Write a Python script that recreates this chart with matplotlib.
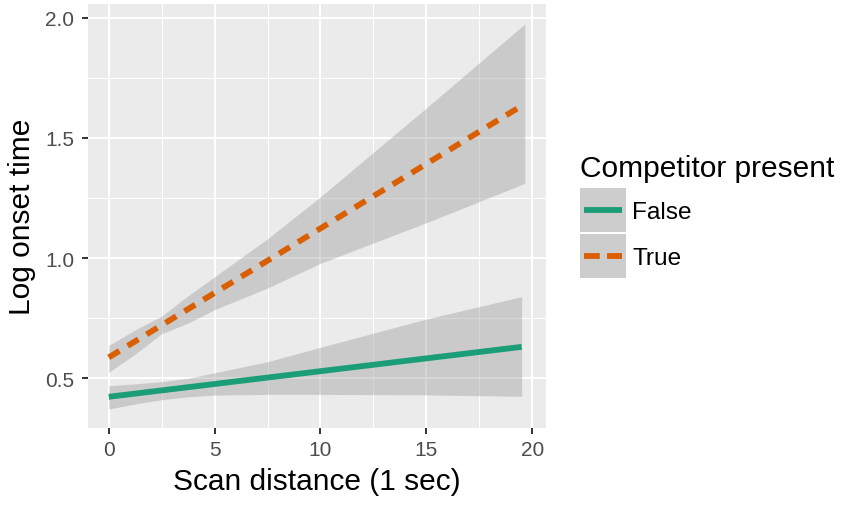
import numpy as np
import matplotlib.pyplot as plt
from matplotlib.patches import Patch
from matplotlib.lines import Line2D
from matplotlib.legend_handler import HandlerLine2D

plt.rcParams['font.family'] = ['Liberation Sans', 'DejaVu Sans']

# fitted lines
x_false = [0, 19.5]
fit_false = [0.422, 0.630]
x_true = [0, 19.65]
fit_true = [0.586, 1.642]

# confidence bands
band_x_false = [0, 1.25, 2.5, 3.75, 5, 7.5, 10, 15, 19.5]
band_lo_false = [0.371, 0.392, 0.410, 0.422, 0.429, 0.432, 0.432, 0.430, 0.424]
band_hi_false = [0.468, 0.476, 0.485, 0.499, 0.522, 0.568, 0.628, 0.746, 0.839]

band_x_true = [0, 1.25, 2.5, 3.75, 5, 7.5, 10, 15, 19.65]
band_lo_true = [0.524, 0.600, 0.685, 0.729, 0.785, 0.875, 0.978, 1.147, 1.311]
band_hi_true = [0.636, 0.701, 0.758, 0.843, 0.922, 1.080, 1.255, 1.625, 1.975]

labels = ["False", "True"]
legend_title = "Competitor present"
green = "#1B9E77"
orange = "#D95F02"
lw = 4.2
dash = (2.15, 1.65)
key_dash = (2.7, 1.25)


class KeyLine(HandlerLine2D):
    # line centred in the key box, with a small inset on both sides
    def create_artists(self, legend, orig_handle, xdescent, ydescent, width, height, fontsize, trans):
        pad = 0.085 * width
        y = -ydescent + height / 2
        line = Line2D([-xdescent + pad, -xdescent + width - pad], [y, y])
        self.update_prop(line, orig_handle, legend)
        line.set_transform(trans)
        return [line]


fig = plt.figure(figsize=(8.41, 5.06), dpi=100)
ax = fig.add_axes([88 / 841, 1 - 429 / 506, (546 - 88) / 841, (429 - 4.5) / 506])
ax.set_facecolor("#EBEBEB")
for s in ax.spines.values():
    s.set_visible(False)

ax.fill_between(band_x_false, band_lo_false, band_hi_false, color="#999999", alpha=0.4, lw=0, zorder=2)
ax.fill_between(band_x_true, band_lo_true, band_hi_true, color="#999999", alpha=0.4, lw=0, zorder=2)
ax.plot(x_false, fit_false, color=green, lw=lw, solid_capstyle="butt", zorder=3)
ax.plot(x_true, fit_true, color=orange, lw=lw, dashes=dash, dash_capstyle="butt", zorder=3)

ax.set_xlim(-0.98, 20.65)
ax.set_ylim(0.292, 2.06)
ax.set_xticks([0, 5, 10, 15, 20])
ax.set_xticks([2.5, 7.5, 12.5, 17.5], minor=True)
ax.set_yticks([0.5, 1.0, 1.5, 2.0])
ax.set_yticks([0.75, 1.25, 1.75], minor=True)
ax.set_yticklabels(["0.5", "1.0", "1.5", "2.0"])
ax.grid(which="major", color="white", lw=1.5, zorder=1)
ax.grid(which="minor", color="white", lw=0.75, zorder=1)
ax.set_axisbelow(True)
ax.tick_params(which="major", length=4, width=1.4, color="#333333", labelcolor="#4D4D4D", labelsize=15)
ax.tick_params(axis="x", pad=4.5)
ax.tick_params(axis="y", pad=6)
ax.tick_params(which="minor", length=0)

ax.set_xlabel("Scan distance (1 sec)", fontsize=21.5, labelpad=6)
ax.set_ylabel("Log onset time", fontsize=21.5, labelpad=6.5)

# legend: title as its own text, keys below it
fig.text(579.5 / 841, 1 - 176.7 / 506, legend_title, fontsize=21.5, va="baseline", ha="left")
key_fill = "#CDCDCD"
handles = [
    (Patch(facecolor=key_fill, edgecolor="none"), Line2D([], [], color=green, lw=lw, solid_capstyle="butt")),
    (Patch(facecolor=key_fill, edgecolor="none"), Line2D([], [], color=orange, lw=lw, dashes=key_dash, dash_capstyle="butt")),
]
leg = fig.legend(handles, labels, loc="upper left",
                 bbox_to_anchor=(580 / 841, 1 - 189.3 / 506), frameon=False,
                 fontsize=17.6, handlelength=1.88, handleheight=2.37,
                 handletextpad=0.25, labelspacing=0.095, borderpad=0, borderaxespad=0,
                 handler_map={Line2D: KeyLine()})

fig.savefig("out.png", dpi=100)
